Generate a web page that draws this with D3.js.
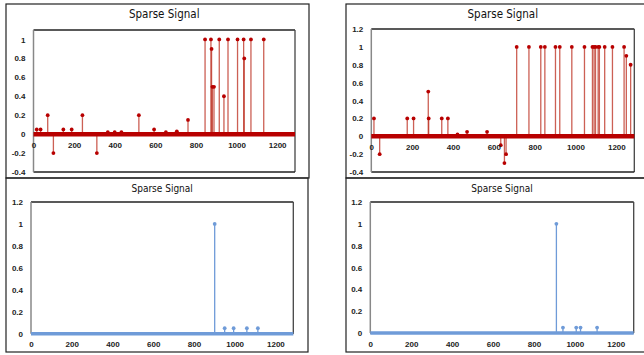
<!DOCTYPE html>
<html><head><meta charset="utf-8">
<script src="https://cdn.jsdelivr.net/npm/d3@7"></script>
<style>
html,body{margin:0;padding:0;background:#fff;}
svg{display:block;}
.tick text{font-family:"Liberation Sans",Arial,sans-serif;font-weight:bold;font-size:8px;fill:#222;}
.title{font-family:"Liberation Sans Narrow","DejaVu Sans Condensed",sans-serif;fill:#111;}
</style></head>
<body>
<svg id="c" width="644" height="355"></svg>
<script>
// ---- data ----
const title = "Sparse Signal";
const xTicks = [0, 200, 400, 600, 800, 1000, 1200];
const xMax = 1288;

const tlX = [16, 35, 70, 98, 147, 188, 241, 312, 366, 400, 433, 519, 594, 652, 706, 761, 845, 874, 877, 881, 889, 915, 938, 958, 1005, 1035, 1038, 1071, 1134];
const tlY = [0.05, 0.05, 0.2, -0.2, 0.05, 0.05, 0.2, -0.2, 0.02, 0.02, 0.02, 0.2, 0.05, 0.02, 0.03, 0.15, 1, 1, 0.9, 0.5, 0.5, 1, 0.4, 1, 1, 1, 0.8, 1, 1];
const tlYTicks = [-0.4, -0.2, 0, 0.2, 0.4, 0.6, 0.8, 1];

const trX = [13, 41, 176, 207, 279, 281, 345, 375, 422, 469, 567, 634, 652, 660, 712, 772, 830, 850, 902, 923, 982, 1044, 1083, 1091, 1098, 1111, 1117, 1143, 1181, 1238, 1249, 1270];
const trY = [0.2, -0.2, 0.2, 0.2, 0.5, 0.2, 0.2, 0.2, 0.02, 0.05, 0.05, -0.1, -0.3, -0.2, 1, 1, 1, 1, 1, 1, 1, 1, 1, 1, 1, 1, 1, 1, 1, 1, 0.9, 0.8];
const trYTicks = [-0.4, -0.2, 0, 0.2, 0.4, 0.6, 0.8, 1, 1.2];

const blX = [902, 951, 995, 1060, 1114];
const blY = [1, 0.05, 0.05, 0.05, 0.05];
const brX = [910, 942, 1007, 1028, 1109];
const brY = [1, 0.05, 0.05, 0.05, 0.05];
const bYTicks = [0, 0.2, 0.4, 0.6, 0.8, 1, 1.2];

// ---- layout ----
const panels = [
  {frame:[6,4,309,178], plot:[33.5,30,295,172], yDom:[-0.4,1.1], xs:tlX, ys:tlY, yt:tlYTicks,
   stem:"#c0392b", mark:"#b80000", zero:"#b80000", zw:4.5, titleY:18, titleSize:11.5, red:true},
  {frame:[346,4,650,178], plot:[371.3,29,634.3,172], yDom:[-0.4,1.2], xs:trX, ys:trY, yt:trYTicks,
   stem:"#c0392b", mark:"#b80000", zero:"#b80000", zw:4.5, titleY:18, titleSize:11.5, red:true},
  {frame:[6,178,308,352], plot:[31,202,293.3,333.7], yDom:[0,1.2], xs:blX, ys:blY, yt:bYTicks,
   stem:"#6f9bd8", mark:"#6f9bd8", zero:"#6f9bd8", zw:3.5, titleY:192, titleSize:10, red:false},
  {frame:[346,178,650,352], plot:[370.3,202,633.7,333], yDom:[0,1.2], xs:brX, ys:brY, yt:bYTicks,
   stem:"#6f9bd8", mark:"#6f9bd8", zero:"#6f9bd8", zw:3.5, titleY:192, titleSize:10, red:false}
];

const svg = d3.select("#c");

panels.forEach(p => {
  const [fx0, fy0, fx1, fy1] = p.frame;
  svg.append("rect").attr("x", fx0).attr("y", fy0).attr("width", fx1 - fx0).attr("height", fy1 - fy0)
    .attr("fill", "none").attr("stroke", "#222").attr("stroke-width", 1.2);

  const [px0, py0, px1, py1] = p.plot;
  const x = d3.scaleLinear().domain([0, xMax]).range([px0, px1]);
  const y = d3.scaleLinear().domain(p.yDom).range([py1, py0]);
  const g = svg.append("g");

  // plot box
  g.append("line").attr("x1", px0).attr("x2", px1).attr("y1", py0).attr("y2", py0).attr("stroke", "#222").attr("stroke-width", 1.3);
  g.append("line").attr("x1", px1).attr("x2", px1).attr("y1", py0).attr("y2", py1).attr("stroke", "#444").attr("stroke-width", 1.3);
  g.append("line").attr("x1", px0).attr("x2", px1).attr("y1", py1).attr("y2", py1).attr("stroke", "#222").attr("stroke-width", 1.3);
  g.append("line").attr("x1", px0).attr("x2", px0).attr("y1", py0).attr("y2", py1).attr("stroke", "#888").attr("stroke-width", 1.5);

  // title
  svg.append("text").attr("class", "title")
    .attr("x", (px0 + px1) / 2).attr("y", p.titleY).attr("text-anchor", "middle")
    .style("font-size", p.titleSize + "px").text(title);

  // y axis labels
  const yAxis = d3.axisLeft(y).tickValues(p.yt).tickSize(0).tickPadding(8)
    .tickFormat(d => String(Math.round(d * 10) / 10));
  const ya = g.append("g").attr("transform", `translate(${px0},0)`).call(yAxis);
  ya.select(".domain").remove();

  // stems
  const pts = p.xs.map((v, i) => [v, p.ys[i]]);
  g.selectAll(".stem").data(pts).join("line")
    .attr("x1", d => x(d[0])).attr("x2", d => x(d[0]))
    .attr("y1", y(0)).attr("y2", d => y(d[1]))
    .attr("stroke", p.stem).attr("stroke-width", 1.3).attr("opacity", p.red ? 0.8 : 1);

  // zero line
  g.append("line").attr("x1", x(0)).attr("x2", x(xMax)).attr("y1", y(0)).attr("y2", y(0))
    .attr("stroke", p.zero).attr("stroke-width", p.zw);

  // markers
  g.selectAll(".mk").data(pts).join("circle")
    .attr("cx", d => x(d[0])).attr("cy", d => y(d[1])).attr("r", 1.9).attr("fill", p.mark);

  // x axis labels at y=0
  const xAxis = d3.axisBottom(x).tickValues(xTicks).tickSize(0).tickPadding(8)
    .tickFormat(d3.format("d"));
  const xa = g.append("g").attr("transform", `translate(0,${y(0)})`).call(xAxis);
  xa.select(".domain").remove();
});
</script>
</body></html>
